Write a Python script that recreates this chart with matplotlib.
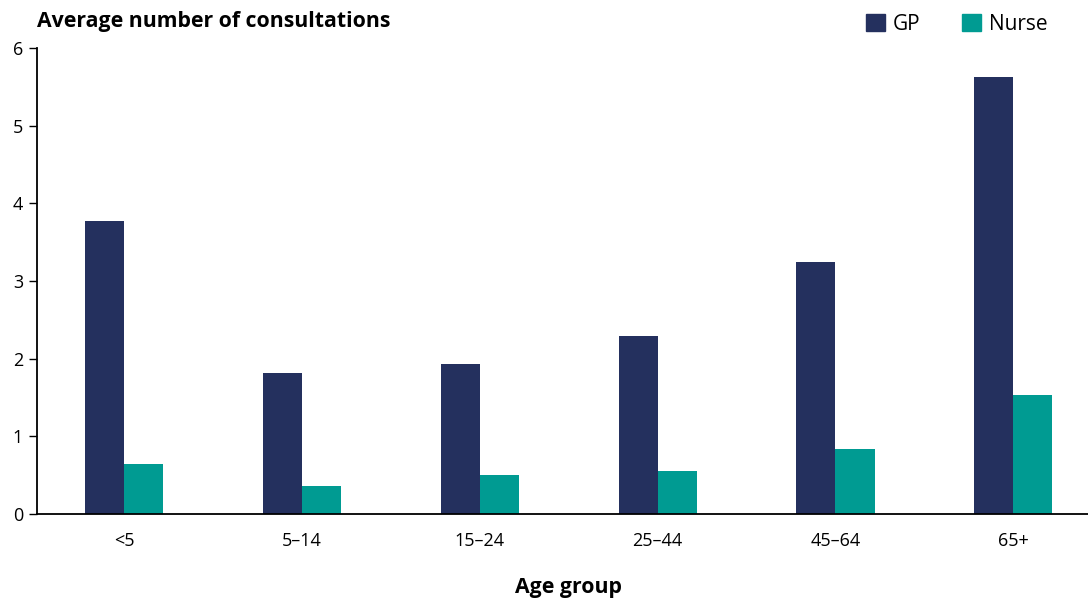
import matplotlib
matplotlib.use("Agg")
import matplotlib.pyplot as plt
import numpy as np
from matplotlib.patches import Patch

categories = ["<5", "5–14", "15–24", "25–44", "45–64", "65+"]
gp = [3.77, 1.82, 1.93, 2.29, 3.24, 5.63]
nurse = [0.65, 0.36, 0.50, 0.55, 0.84, 1.53]
series_names = ["GP", "Nurse"]
colors = ["#24305E", "#009B92"]

plt.rcParams['font.family'] = ['Open Sans', 'DejaVu Sans']

fig = plt.figure(figsize=(10.88, 6.01), dpi=100)
ax = fig.add_axes([37/1088, 1-514/601, (1088-37)/1088, (514-48)/601])

x = np.arange(len(categories))
w = 0.22
ax.bar(x - w/2, gp, width=w, color=colors[0], label=series_names[0])
ax.bar(x + w/2, nurse, width=w, color=colors[1], label=series_names[1])

ax.set_xlim(-0.49, 5.42)
ax.set_ylim(0, 6)
ax.set_yticks(range(0, 7))
ax.set_xticks(x)
ax.set_xticklabels(categories)
ax.tick_params(axis='x', length=0, pad=13, labelsize=13)
ax.tick_params(axis='y', length=6, width=1, pad=4, labelsize=13)
for s in ["top", "right"]:
    ax.spines[s].set_visible(False)
for s in ["left", "bottom"]:
    ax.spines[s].set_linewidth(1.3)

fig.text(37/1088, 1-22/601, "Average number of consultations", fontsize=15.3,
         fontweight='bold', ha='left', va='center')
fig.text(568/1088, 1-588/601, "Age group", fontsize=15.3, fontweight='bold',
         ha='center', va='center')

handles = [Patch(color=c) for c in colors]
leg = fig.legend(handles, series_names, loc='center left', bbox_to_anchor=(866/1088, 1-24/601),
                 ncol=2, frameon=False, fontsize=15, handlelength=0.91, handleheight=0.91,
                 columnspacing=2.0, handletextpad=0.38, borderpad=0, borderaxespad=0)

fig.savefig("out.png", dpi=100)
